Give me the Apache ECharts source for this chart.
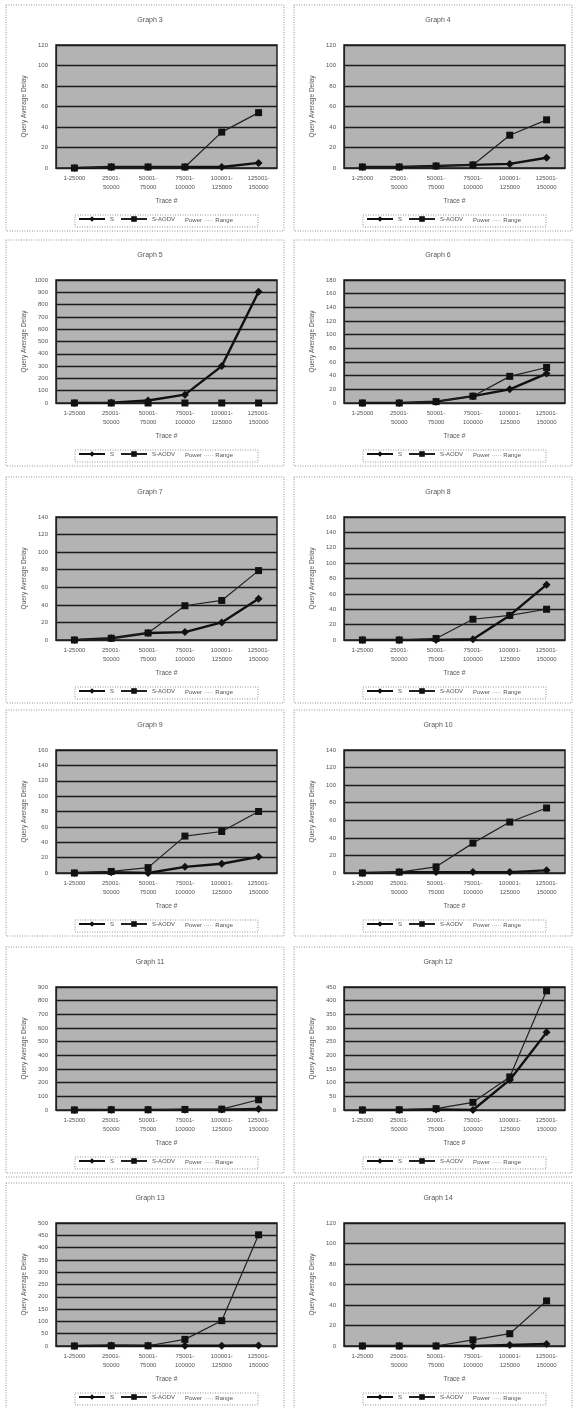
<!DOCTYPE html>
<html><head><meta charset="utf-8">
<script src="https://cdn.jsdelivr.net/npm/echarts@6/dist/echarts.min.js"></script>
<style>html,body{margin:0;padding:0;background:#fff}#c{width:578px;height:1408px}</style>
</head><body><div id="c"></div>
<script>
const categories = ['1-25000','25001-\n50000','50001-\n75000','75001-\n100000','100001-\n125000','125001-\n150000'];
const graphTitles = ['Graph 3','Graph 4','Graph 5','Graph 6','Graph 7','Graph 8','Graph 9','Graph 10','Graph 11','Graph 12','Graph 13','Graph 14'];
const yMax  = [120,120,1000,180,140,160,160,140,900,450,500,120];
const yStep = [20,20,100,20,20,20,20,20,100,50,50,20];
const g3S  = [0,1,1,1,1,5];      const g3A  = [0,1,1,1,35,54];
const g4S  = [1,1,2,3,4,10];     const g4A  = [1,1,2,3,32,47];
const g5S  = [0,2,20,68,300,905];const g5A  = [0,0,0,0,0,0];
const g6S  = [0,0,2,10,20,43];   const g6A  = [0,0,2,10,39,52];
const g7S  = [0,2,8,9,20,47];    const g7A  = [0,2,8,39,45,79];
const g8S  = [0,0,0,1,32,72];    const g8A  = [0,0,2,27,32,40];
const g9S  = [0,1,0,8,12,21];    const g9A  = [0,2,7,48,54,80];
const g10S = [0,1,1,1,1,3];      const g10A = [0,1,7,34,58,74];
const g11S = [0,1,1,2,3,8];      const g11A = [0,2,2,4,6,75];
const g12S = [0,0,2,0,110,284];  const g12A = [0,1,5,28,121,436];
const g13S = [0,2,1,1,1,2];      const g13A = [0,1,1,27,103,452];
const g14S = [0,0,0,0,1,2];      const g14A = [0,0,0,6,12,44];
const seriesS = [g3S,g4S,g5S,g6S,g7S,g8S,g9S,g10S,g11S,g12S,g13S,g14S];
const seriesA = [g3A,g4A,g5A,g6A,g7A,g8A,g9A,g10A,g11A,g12A,g13A,g14A];

const panelTops = [5,240,477,710,947,1183];
const colX = [0,288];
const font = 'Liberation Sans, Arial, sans-serif';
const txt = '#555';
const chart = echarts.init(document.getElementById('c'));
const grid=[],xAxis=[],yAxis=[],series=[],title=[],graphic=[],legend=[];
for (let i=0;i<12;i++){
  const c=i%2, r=Math.floor(i/2);
  const px=colX[c], py=panelTops[r];
  grid.push({left:px+56,top:py+40,width:221,height:123,show:true,backgroundColor:'#b3b3b3',borderColor:'#222',borderWidth:1.5});
  xAxis.push({type:'category',gridIndex:i,data:categories,boundaryGap:true,
    axisLine:{lineStyle:{color:'#222',width:1.2}},axisTick:{show:false},
    axisLabel:{fontSize:6,color:txt,fontFamily:font,interval:0,lineHeight:9,margin:6},
    name:'Trace #',nameLocation:'middle',nameGap:30,nameTextStyle:{fontSize:6.5,color:txt,fontFamily:font}});
  yAxis.push({type:'value',gridIndex:i,min:0,max:yMax[i],interval:yStep[i],
    axisLine:{show:true,lineStyle:{color:'#222',width:1.2}},axisTick:{show:false},
    splitLine:{lineStyle:{color:'#1a1a1a',width:1.4}},
    axisLabel:{fontSize:6,color:txt,fontFamily:font,margin:8,formatter:v=>String(v)},
    name:'Query Average Delay',nameLocation:'middle',nameGap:28,nameTextStyle:{fontSize:6.5,color:txt,fontFamily:font}});
  series.push({name:'S',type:'line',xAxisIndex:i,yAxisIndex:i,data:seriesS[i],symbol:'diamond',symbolSize:8,
    lineStyle:{color:'#111',width:2.4},itemStyle:{color:'#111'},z:3});
  series.push({name:'S-AODV',type:'line',xAxisIndex:i,yAxisIndex:i,data:seriesA[i],symbol:'rect',symbolSize:7,
    lineStyle:{color:'#222',width:1.2},itemStyle:{color:'#111'},z:4});
  title.push({text:graphTitles[i],left:px+145,top:py+7,textAlign:'center',textStyle:{fontSize:7,fontWeight:'normal',color:txt,fontFamily:font}});
  graphic.push({type:'rect',shape:{x:px+6,y:py,width:278,height:226},style:{fill:null,stroke:'#777',lineWidth:0.8,lineDash:[1,1.5]},silent:true});
  const ly=py+216;
  graphic.push({type:'rect',shape:{x:px+75,y:ly-6,width:183,height:12},style:{fill:null,stroke:'#777',lineWidth:0.8,lineDash:[1,1.5]},silent:true});
  graphic.push({type:'text',left:px+185,top:py+212,style:{text:'Power ····· Range',fontSize:6,fill:txt,fontFamily:font},silent:true});
  legend.push({data:['S','S-AODV'],left:px+78,top:py+211,itemWidth:26,itemHeight:7,itemGap:6,
    textStyle:{fontSize:6,color:txt,fontFamily:font},padding:0,selectedMode:false});
}
// double rule above the last row of panels
graphic.push({type:'line',shape:{x1:6,y1:1177,x2:572,y2:1177},style:{stroke:'#777',lineWidth:0.8,lineDash:[1,1.5]},silent:true});
chart.setOption({animation:false,backgroundColor:'#fff',title,grid,xAxis,yAxis,series,legend,graphic});
</script></body></html>
